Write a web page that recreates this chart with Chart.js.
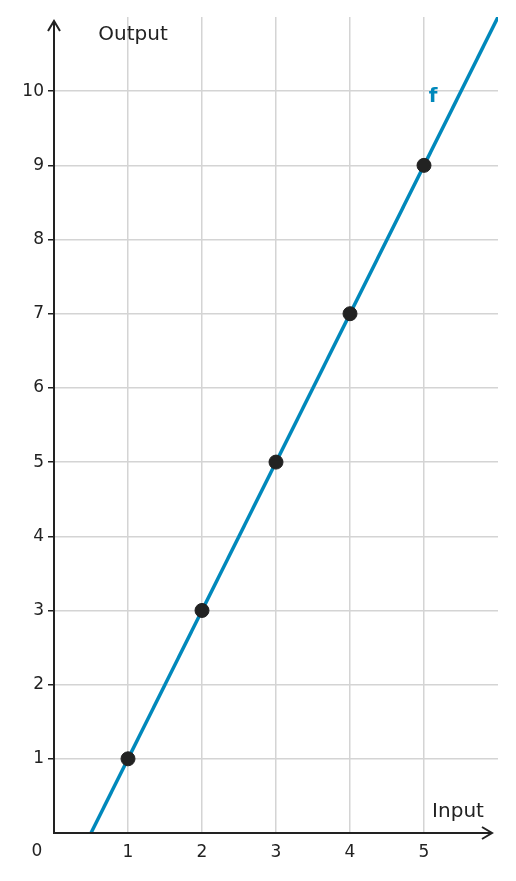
<!DOCTYPE html>
<html><head><meta charset="utf-8">
<script src="https://cdn.jsdelivr.net/npm/chart.js@4"></script>
<style>html,body{margin:0;padding:0;background:#fff}#w{width:516px;height:881px}</style>
</head><body><div id="w"><canvas id="c" width="516" height="881"></canvas></div>
<script>
const inputs = [1, 2, 3, 4, 5];
const outputs = [1, 3, 5, 7, 9];
const lineX = [0.5, 6];
const lineY = [0, 11];
const xTicks = [1, 2, 3, 4, 5];
const yTicks = [1, 2, 3, 4, 5, 6, 7, 8, 9, 10];
const BLUE = '#0088bb', INK = '#222222', FONT = '"DejaVu Sans", sans-serif';

const deco = {
  id: 'deco',
  afterDraw(chart) {
    const c = chart.ctx, x = chart.scales.x, y = chart.scales.y;
    const x0 = x.getPixelForValue(0), y0 = y.getPixelForValue(0);
    c.save();
    c.strokeStyle = INK; c.lineWidth = 2;
    c.beginPath(); c.moveTo(x0, y0 + 1); c.lineTo(x0, chart.chartArea.top + 4); c.stroke();
    c.beginPath(); c.moveTo(x0 - 1, y0); c.lineTo(chart.chartArea.right - 6, y0); c.stroke();
    c.beginPath(); c.moveTo(x0 - 6, chart.chartArea.top + 14); c.lineTo(x0, chart.chartArea.top + 4); c.lineTo(x0 + 6, chart.chartArea.top + 14); c.stroke();
    const xe = chart.chartArea.right - 6;
    c.beginPath(); c.moveTo(xe - 10, y0 - 6); c.lineTo(xe, y0); c.lineTo(xe - 10, y0 + 6); c.stroke();
    c.font = '17px ' + FONT; c.fillStyle = INK; c.textBaseline = 'middle';
    c.textAlign = 'center';
    c.fillText('0', 37, 852);
    c.font = '20px ' + FONT;
    c.fillText('Output', 133, 35);
    c.fillText('Input', 458, 812);
    c.font = 'bold 20px ' + FONT; c.fillStyle = BLUE;
    c.fillText('f', 433, 97);
    c.restore();
  }
};

new Chart(document.getElementById('c'), {
  type: 'scatter',
  data: {
    datasets: [
      { data: inputs.map((v, i) => ({ x: v, y: outputs[i] })), backgroundColor: INK, borderColor: INK, pointRadius: 7, order: 0 },
      { type: 'line', data: lineX.map((v, i) => ({ x: v, y: lineY[i] })), borderColor: BLUE, borderWidth: 3.5, pointRadius: 0, order: 1 }
    ]
  },
  options: {
    responsive: false, animation: false,
    layout: { padding: { top: 17, right: 18, left: 0, bottom: 0 } },
    plugins: { legend: { display: false }, tooltip: { enabled: false } },
    scales: {
      x: {
        type: 'linear', min: 0, max: 6,
        afterBuildTicks: s => { s.ticks = xTicks.map(v => ({ value: v })); },
        afterFit: s => { s.height = 48; },
        border: { display: false },
        grid: { color: '#d4d4d4', lineWidth: 1.5, drawTicks: false },
        ticks: { color: INK, font: { family: FONT, size: 17 }, padding: 9 }
      },
      y: {
        type: 'linear', min: 0, max: 11,
        afterBuildTicks: s => { s.ticks = yTicks.map(v => ({ value: v })); },
        afterFit: s => { s.width = 54; },
        border: { display: false },
        grid: { color: '#d4d4d4', lineWidth: 1.5, tickLength: 6, tickColor: INK },
        ticks: { color: INK, font: { family: FONT, size: 17 }, padding: 4 }
      }
    }
  },
  plugins: [deco]
});
</script></body></html>
